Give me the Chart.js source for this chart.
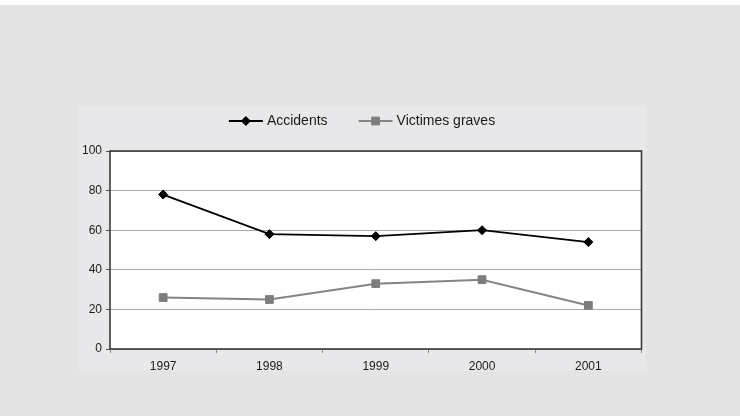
<!DOCTYPE html>
<html>
<head>
<meta charset="utf-8">
<script src="https://cdn.jsdelivr.net/npm/chart.js@4.4.1/dist/chart.umd.min.js"></script>
<style>
  html, body { margin: 0; padding: 0; }
  body { width: 740px; height: 416px; background: #e4e4e4; position: relative; overflow: hidden; }
  #bande { position: absolute; left: 0; top: 0; width: 740px; height: 5px; background: #fff; }
  #cadre { position: absolute; left: 78px; top: 106px; width: 568px; height: 265px; background: #e8e8ea; }
  #graph { position: absolute; left: 0; top: 0; }
</style>
</head>
<body>
<div id="bande"></div>
<div id="cadre"></div>
<canvas id="graph" width="740" height="416"></canvas>
<script>
const annees = ["1997", "1998", "1999", "2000", "2001"];
const accidents = [78, 58, 57, 60, 54];
const victimesGraves = [26, 25, 33, 35, 22];
const graduations = [0, 20, 40, 60, 80, 100];

const police = "'Liberation Sans', Arial, sans-serif";

// fond blanc de la zone de tracé + cadre foncé
const cadreTrace = {
  id: "cadreTrace",
  beforeDraw(chart) {
    const a = chart.chartArea;
    const ctx = chart.ctx;
    ctx.save();
    ctx.fillStyle = "#ffffff";
    ctx.fillRect(a.left, a.top, a.right - a.left, a.bottom - a.top);
    ctx.restore();
  },
  beforeDatasetsDraw(chart) {
    const a = chart.chartArea;
    const ctx = chart.ctx;
    ctx.save();
    ctx.strokeStyle = "#3a3a3a";
    ctx.lineWidth = 1.6;
    ctx.strokeRect(a.left, a.top, a.right - a.left, a.bottom - a.top);
    ctx.restore();
  }
};

// légende : trait + marqueur puis libellé, centrée sur le cadre
const legendeLigne = {
  id: "legendeLigne",
  afterDraw(chart) {
    const ctx = chart.ctx;
    const sets = chart.data.datasets;
    const trait = 34, ecartTexte = 4, ecartItem = 31;
    const y = 121;
    ctx.save();
    ctx.font = "14px " + police;
    ctx.textBaseline = "middle";
    let total = 0;
    sets.forEach((ds, i) => {
      total += trait + ecartTexte + ctx.measureText(ds.label).width;
      if (i > 0) total += ecartItem;
    });
    let x = 362 - total / 2;
    sets.forEach(ds => {
      ctx.strokeStyle = ds.borderColor;
      ctx.lineWidth = ds.borderWidth;
      ctx.beginPath();
      ctx.moveTo(x, y);
      ctx.lineTo(x + trait, y);
      ctx.stroke();
      ctx.fillStyle = ds.pointBackgroundColor;
      ctx.strokeStyle = ds.pointBorderColor;
      ctx.lineWidth = 1;
      Chart.helpers.drawPoint(ctx, {
        pointStyle: ds.pointStyle, radius: ds.pointRadius, rotation: 0, borderWidth: 1
      }, x + trait / 2, y);
      ctx.fillStyle = "#1a1a1a";
      ctx.fillText(ds.label, x + trait + ecartTexte, y);
      x += trait + ecartTexte + ctx.measureText(ds.label).width + ecartItem;
    });
    ctx.restore();
  }
};

new Chart(document.getElementById("graph"), {
  type: "line",
  data: {
    labels: annees,
    datasets: [
      {
        label: "Accidents",
        data: accidents,
        borderColor: "#000000",
        borderWidth: 1.8,
        pointStyle: "rectRot",
        pointRadius: 4.5,
        pointBackgroundColor: "#000000",
        pointBorderColor: "#000000",
        pointBorderWidth: 1,
        tension: 0
      },
      {
        label: "Victimes graves",
        data: victimesGraves,
        borderColor: "#858585",
        borderWidth: 2,
        pointStyle: "rect",
        pointRadius: 5.5,
        pointBackgroundColor: "#7d7d7d",
        pointBorderColor: "#7d7d7d",
        pointBorderWidth: 1,
        tension: 0
      }
    ]
  },
  options: {
    responsive: false,
    animation: false,
    layout: { padding: { top: 151, left: 0, right: 98.5, bottom: 0 } },
    plugins: {
      legend: { display: false },
      tooltip: { enabled: false }
    },
    scales: {
      x: {
        offset: true,
        afterFit: s => { s.height = 67; },
        border: { display: false },
        grid: {
          offset: true,
          drawOnChartArea: false,
          drawTicks: true,
          tickLength: 4,
          tickColor: "#8a8a8a"
        },
        ticks: {
          color: "#1a1a1a",
          padding: 6,
          font: { family: police, size: 12 }
        }
      },
      y: {
        min: 0,
        max: 100,
        afterFit: s => { s.width = 110; },
        afterBuildTicks: s => { s.ticks = graduations.map(v => ({ value: v })); },
        border: { display: false },
        grid: {
          color: "#a9a9a9",
          lineWidth: 1,
          drawTicks: true,
          tickLength: 4,
          tickColor: "#555555"
        },
        ticks: {
          color: "#1a1a1a",
          padding: 4,
          font: { family: police, size: 12 }
        }
      }
    }
  },
  plugins: [cadreTrace, legendeLigne]
});
</script>
</body>
</html>
